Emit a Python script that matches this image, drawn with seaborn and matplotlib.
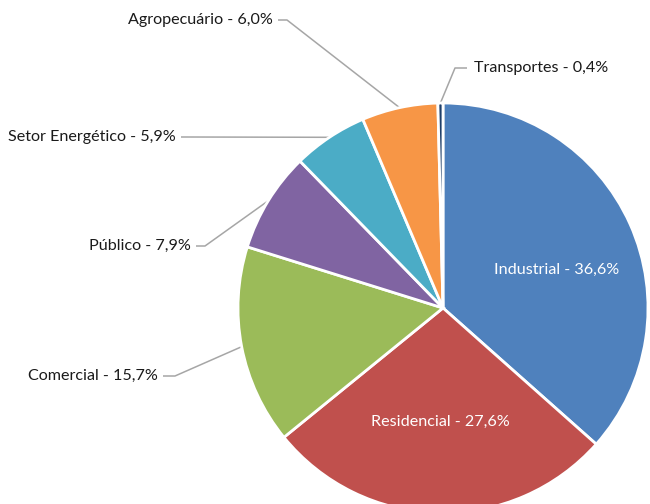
import numpy as np
import matplotlib
matplotlib.use("Agg")
import matplotlib.pyplot as plt
import seaborn as sns

# Consumo de energia por setor (%)
setores = ["Industrial", "Residencial", "Comercial", "Público",
           "Setor Energético", "Agropecuário", "Transportes"]
valores = [36.6, 27.6, 15.7, 7.9, 5.9, 6.0, 0.4]
cores = ["#4F81BD", "#C0504D", "#9BBB59", "#8064A2",
         "#4BACC6", "#F79646", "#1F3F6A"]

sns.set_theme(style="white")
plt.rcParams["font.family"] = ["Lato", "DejaVu Sans"]

W, H = 650, 504
fig = plt.figure(figsize=(W / 100, H / 100), dpi=100)
ax = fig.add_axes([0, 0, 1, 1])

cx, cy, r = 443, 504 - 308, 205
wedges, _ = ax.pie(valores, startangle=90, counterclock=False,
                   colors=cores, center=(cx, cy), radius=r,
                   wedgeprops=dict(edgecolor="white", linewidth=2))
ax.set_xlim(0, W)
ax.set_ylim(0, H)
ax.set_aspect("equal")
ax.axis("off")

def rotulo(nome, v):
    return f"{nome} - {v:.1f}%".replace(".", ",")

# rótulos internos
internos = {"Industrial": (557, 234), "Residencial": (440, 82)}
# rótulos externos: posição do texto (extremidade direita/esquerda) e cotovelo da linha
externos = {
    "Agropecuário": dict(xy=(273, 484), ha="right", elbow=(287, 484)),
    "Transportes": dict(xy=(474, 436), ha="left", elbow=(455, 436)),
    "Setor Energético": dict(xy=(176, 367), ha="right", elbow=(186, 367)),
    "Público": dict(xy=(191, 258), ha="right", elbow=(205, 258)),
    "Comercial": dict(xy=(158, 128), ha="right", elbow=(175, 128)),
}

fs = 11.6
for w, nome, v in zip(wedges, setores, valores):
    txt = rotulo(nome, v)
    if nome in internos:
        x, y = internos[nome]
        ax.text(x, y, txt, ha="center", va="center", color="white", fontsize=fs)
        continue
    cfg = externos[nome]
    ang = np.deg2rad((w.theta1 + w.theta2) / 2)
    ancora = (cx + r * np.cos(ang), cy + r * np.sin(ang))
    tx, ty = cfg["xy"]
    inicio = tx + (5 if cfg["ha"] == "right" else -7)
    ex, ey = cfg["elbow"]
    ax.plot([inicio, ex, ancora[0]], [ty, ey, ancora[1]],
            color="#A6A6A6", lw=1.1, solid_capstyle="butt", zorder=0.5)
    ax.text(tx, ty, txt, ha=cfg["ha"], va="center", color="#1A1A1A", fontsize=fs)

fig.savefig("out.png", dpi=100, facecolor="white")
